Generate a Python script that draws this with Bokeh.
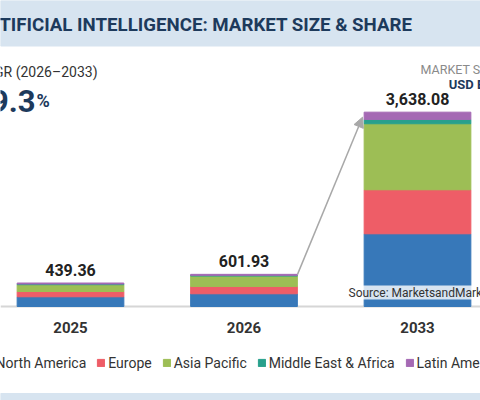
from bokeh.plotting import figure
from bokeh.models import (Range1d, Legend, LegendItem, Arrow,
                          NormalHead, Span, ColumnDataSource)
from bokeh.core.properties import value
from bokeh.embed import file_html
from bokeh.resources import INLINE

# ---------------- data ----------------
years = ["2025", "2026", "2033"]
regions = ["North America", "Europe", "Asia Pacific", "Middle East & Africa", "Latin America"]
north_america = [182, 238, 1361]
europe = [99, 137, 824]
asia_pacific = [127, 195, 1236]
middle_east_africa = [13, 13, 81]
latin_america = [18.36, 18.93, 136.08]
totals = [439.36, 601.93, 3638.08]
total_labels = ["439.36", "601.93", "3,638.08"]
title_text = "ARTIFICIAL INTELLIGENCE: MARKET SIZE & SHARE"
cagr_label = "CAGR (2026\u20132033)"
cagr_value = "29.3"
size_label = "MARKET SIZE"
unit_label = "USD BILLION"
source_text = "Source: MarketsandMarkets"

colors = ["#3778b9", "#ee5d67", "#9dbe55", "#28a08c", "#a569b4"]
NAVY = "#1d3a5c"
BAND = "#d7e4f0"
FONT = value("Roboto")

# ---------------- figure ----------------
W, H = 480, 400
UNITS_PER_PX = 18.72          # value units per screen pixel
BASE_Y = 306                  # screen row of value 0
FIRST_CENTER, STEP = 70, 173.5   # category layout in screen pixels
y_end = BASE_Y * UNITS_PER_PX
y_start = -(H - BASE_Y) * UNITS_PER_PX
x_start = (0 - FIRST_CENTER) / STEP
x_end = (W - FIRST_CENTER) / STEP

p = figure(width=W, height=H, output_backend="svg", toolbar_location=None,
           x_range=Range1d(x_start, x_end), y_range=Range1d(y_start, y_end),
           x_axis_location=None, y_axis_location=None, min_border=0)
p.grid.visible = False
p.outline_line_color = None
p.background_fill_color = "white"
p.border_fill_color = "white"
p.extra_x_ranges = {"px": Range1d(0, W)}
p.extra_y_ranges = {"px": Range1d(H, 0)}

PX = dict(x_range_name="px", y_range_name="px")

# header and footer bands
p.quad(left=[0], right=[W], top=[0], bottom=[45.5], color=BAND, **PX)
p.quad(left=[0], right=[W], top=[393], bottom=[H], color=BAND, **PX)
p.text(x=[412], y=[24], text=[title_text], text_align="right",
       text_baseline="alphabetic", text_font=FONT, text_font_style="bold",
       text_font_size="18.7px", text_color=NAVY, **PX)

# CAGR block
p.text(x=[97], y=[71], text=[cagr_label], text_align="right",
       text_baseline="alphabetic", text_font=FONT, text_font_size="14px",
       text_color="#333333", **PX)
p.text(x=[35], y=[100], text=[cagr_value], text_align="right",
       text_baseline="alphabetic", text_font=FONT, text_font_style="bold",
       text_font_size="31px", text_color=NAVY, **PX)
p.text(x=[36], y=[99.5], text=["%"], text_align="left",
       text_baseline="alphabetic", text_font=FONT, text_font_style="bold",
       text_font_size="18px", text_color=NAVY, **PX)

# market size label (top-right)
p.text(x=[420], y=[69.3], text=[size_label], text_align="left",
       text_baseline="alphabetic", text_font=FONT, text_font_size="12.5px",
       text_color="#8a8a8a", **PX)
p.text(x=[448.3], y=[84], text=[unit_label], text_align="left",
       text_baseline="alphabetic", text_font=FONT, text_font_style="bold",
       text_font_size="13px", text_color=NAVY, **PX)

# baseline
p.add_layout(Span(location=0, dimension="width", line_color="#d6d6d6",
                  line_width=2, level="underlay"))

# stacked bars (x = category position)
xpos = list(range(len(years)))
keys = ["na", "eu", "ap", "mea", "la"]
source = ColumnDataSource(dict(x=xpos, year=years, na=north_america, eu=europe,
                               ap=asia_pacific, mea=middle_east_africa,
                               la=latin_america, total=totals, label=total_labels))
rends = p.vbar_stack(keys, x="x", width=0.615, color=colors, source=source)

# total labels
p.text(x="x", y="total", text="label", source=source, text_align="center",
       text_baseline="alphabetic", y_offset=-13, text_font=FONT,
       text_font_style="bold", text_font_size="16px", text_color="#222222")

# category labels
p.text(x=xpos, y=[0] * len(years), text=years, text_align="center",
       text_baseline="alphabetic", y_offset=21, text_font=FONT,
       text_font_style="bold", text_font_size="15px", text_color="#333333")

# growth arrow
p.add_layout(Arrow(end=NormalHead(size=10, fill_color="#a8a8a8", line_color="#a8a8a8"),
                   x_start=297, y_start=totals[1], x_end=362, y_end=totals[2] * 0.974,
                   x_range_name="px", line_color="#a8a8a8", line_width=1.5))

# source note
p.text(x=[348], y=[292], text=[source_text], text_align="left",
       text_baseline="alphabetic", text_font=FONT, text_font_size="12px",
       text_color="#333333", background_fill_color="white",
       background_fill_alpha=0.8, **PX)

# legend
legend = Legend(items=[LegendItem(label=r, renderers=[g]) for r, g in zip(regions, rends)],
                orientation="horizontal", location=(-16.5, 27.5),
                glyph_width=9, glyph_height=9, label_standoff=3, spacing=10,
                padding=0, margin=0, label_height=20,
                border_line_color=None, background_fill_alpha=0,
                label_text_font="Roboto", label_text_font_size="14px",
                label_text_color="#333333")
p.add_layout(legend, "center")

open("out.html", "w").write(file_html(p, INLINE))
